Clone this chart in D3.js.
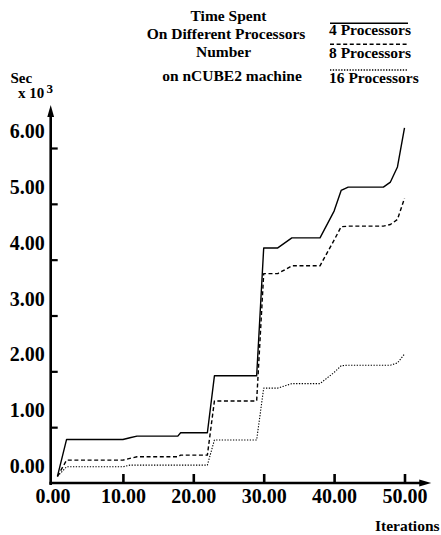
<!DOCTYPE html>
<html>
<head>
<meta charset="utf-8">
<script src="https://cdn.jsdelivr.net/npm/d3@7"></script>
<style>
  body { margin: 0; background: #fff; }
  svg text { font-family: "Liberation Serif", "Times New Roman", serif; font-weight: bold; fill: #000; }
</style>
</head>
<body>
<svg id="chart" width="441" height="535"></svg>
<script>
// Elapsed time (thousands of seconds) per iteration, one series per processor count
const iters4  = [0.7, 2, 10, 11, 12, 17.8, 18.2, 22, 23, 29, 30, 32, 34, 38, 40, 41, 42, 47, 48, 49, 50];
const time4   = [0.12, 0.78, 0.78, 0.81, 0.84, 0.84, 0.90, 0.90, 1.92, 1.92, 4.21, 4.21, 4.39, 4.39, 4.87, 5.24, 5.30, 5.30, 5.39, 5.66, 6.36];

const iters8  = [0.7, 2, 10, 11, 12, 17.8, 18.2, 22, 23, 29, 30, 32, 34, 38, 40, 41, 42, 47, 48, 49, 50];
const time8   = [0.12, 0.41, 0.41, 0.44, 0.47, 0.47, 0.50, 0.50, 1.47, 1.47, 3.75, 3.75, 3.89, 3.89, 4.35, 4.59, 4.60, 4.60, 4.63, 4.72, 5.10];

const iters16 = [0.7, 2, 10, 11, 22, 23, 29, 30, 32, 34, 38, 40, 41, 42, 48, 49, 50];
const time16  = [0.12, 0.29, 0.29, 0.32, 0.32, 0.77, 0.77, 1.70, 1.70, 1.78, 1.78, 1.98, 2.10, 2.11, 2.11, 2.15, 2.31];

const seriesNames = ["4 Processors", "8 Processors", "16 Processors"];
const xTicks = [0, 10, 20, 30, 40, 50];
const yTicks = [0, 1, 2, 3, 4, 5, 6];
const titleLines = ["Time Spent", "On Different Processors", "Number", "on nCUBE2 machine"];

const svg = d3.select("#chart");
svg.append("rect").attr("width", 441).attr("height", 535).attr("fill", "#fff");

const x = d3.scaleLinear().domain([0, 50]).range([52.5, 404.5]);
const y = d3.scaleLinear().domain([0, 6]).range([483, 148]);
const axisX = 50.7;
const fmt = d3.format(".2f");

// Title block
const titlePos = [[228.5, 20.7], [226, 39], [223.5, 57], [232, 80.7]];
svg.append("g").selectAll("text").data(titleLines).join("text")
  .attr("x", (d, i) => titlePos[i][0])
  .attr("y", (d, i) => titlePos[i][1])
  .attr("text-anchor", "middle")
  .style("font-size", "15.5px")
  .text(d => d);

// Series line styles
const styles = [
  { dash: null, width: 1.4 },
  { dash: "4,2.6", width: 1.4 },
  { dash: "1.3,1.5", width: 1.1 }
];

// Legend
const legendLineY = [23.3, 44.3, 70];
const legendTextY = [35, 57.7, 82.7];
const legend = svg.append("g");
seriesNames.forEach((name, i) => {
  legend.append("line")
    .attr("x1", 330).attr("x2", 408)
    .attr("y1", legendLineY[i]).attr("y2", legendLineY[i])
    .attr("stroke", "#000")
    .attr("stroke-width", styles[i].width + 0.2)
    .attr("stroke-dasharray", styles[i].dash);
  legend.append("text")
    .attr("x", 329).attr("y", legendTextY[i])
    .style("font-size", "15.5px")
    .text(name);
});

// Y axis unit label
svg.append("text").attr("x", 10.5).attr("y", 83).style("font-size", "15px").text("Sec");
svg.append("text").attr("x", 18).attr("y", 98).style("font-size", "15px").text("x 10");
svg.append("text").attr("x", 46.5).attr("y", 93).style("font-size", "13px").text("3");

// Y axis: inward ticks, labels raised above the tick marks
const gy = svg.append("g")
  .attr("transform", `translate(${axisX},0)`)
  .call(d3.axisLeft(y).tickValues(yTicks).tickSize(-7).tickPadding(6).tickFormat(fmt));
gy.select(".domain").remove();
gy.selectAll(".tick line").attr("stroke", "#000").attr("stroke-width", 2.2)
  .filter(d => d === 0).remove();
gy.selectAll(".tick text")
  .attr("dy", null).attr("y", -10.5)
  .style("font-size", "20px");

// X axis: upward ticks
const gx = svg.append("g")
  .attr("transform", `translate(0,${y(0)})`)
  .call(d3.axisBottom(x).tickValues(xTicks).tickSize(-9).tickPadding(6).tickFormat(fmt));
gx.select(".domain").remove();
gx.selectAll(".tick line").attr("stroke", "#000").attr("stroke-width", 2.6)
  .filter(d => d === 0).remove();
gx.selectAll(".tick text").style("font-size", "20px");

// Axis lines with arrowheads
const yTop = y(6.77);
const xEnd = x(53.8);
svg.append("line")
  .attr("x1", axisX).attr("x2", axisX)
  .attr("y1", y(0) + 2).attr("y2", yTop + 8)
  .attr("stroke", "#000").attr("stroke-width", 2.6);
svg.append("path")
  .attr("d", `M${axisX},${yTop} L${axisX - 3.4},${yTop + 12} L${axisX + 3.4},${yTop + 12} Z`)
  .attr("fill", "#000");
svg.append("line")
  .attr("x1", axisX - 1.3).attr("x2", xEnd - 8)
  .attr("y1", y(0)).attr("y2", y(0))
  .attr("stroke", "#000").attr("stroke-width", 2.6);
svg.append("path")
  .attr("d", `M${xEnd},${y(0)} L${xEnd - 12},${y(0) - 3.6} L${xEnd - 12},${y(0) + 3.6} Z`)
  .attr("fill", "#000");

svg.append("text").attr("x", 375).attr("y", 530.5).style("font-size", "15.5px").text("Iterations");

// Series lines
const line = d3.line().x(d => x(d[0])).y(d => y(d[1]));
const series = [d3.zip(iters4, time4), d3.zip(iters8, time8), d3.zip(iters16, time16)];
svg.append("g").selectAll("path").data(series).join("path")
  .attr("d", line)
  .attr("fill", "none")
  .attr("stroke", "#000")
  .attr("stroke-width", (d, i) => styles[i].width)
  .attr("stroke-dasharray", (d, i) => styles[i].dash)
  .attr("stroke-linejoin", "round");
</script>
</body>
</html>
